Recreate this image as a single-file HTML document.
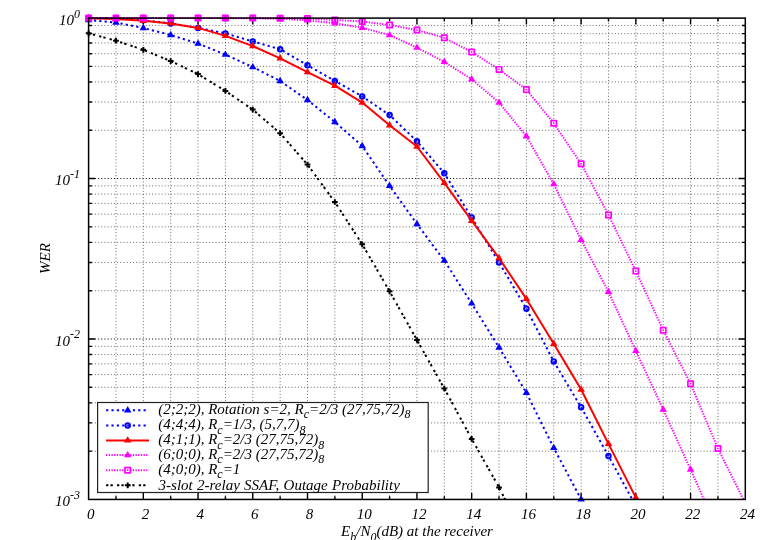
<!DOCTYPE html>
<html><head><meta charset="utf-8"><title>WER</title>
<style>html,body{margin:0;padding:0;background:#fff;width:771px;height:540px;overflow:hidden}</style></head>
<body>
<svg width="771" height="540" viewBox="0 0 771 540" style="position:absolute;left:0;top:0;will-change:transform">
<rect width="771" height="540" fill="#fff"/>
<g stroke="#000" stroke-opacity="0.54" stroke-width="1" stroke-dasharray="1.1 2.07" fill="none">
<path d="M115.96 499.45V18.1"/>
<path d="M143.32 499.45V18.1"/>
<path d="M170.69 499.45V18.1"/>
<path d="M198.05 499.45V18.1"/>
<path d="M225.41 499.45V18.1"/>
<path d="M252.77 499.45V18.1"/>
<path d="M280.14 499.45V18.1"/>
<path d="M307.5 499.45V18.1"/>
<path d="M334.86 499.45V18.1"/>
<path d="M362.23 499.45V18.1"/>
<path d="M389.59 499.45V18.1"/>
<path d="M416.95 499.45V18.1"/>
<path d="M444.31 499.45V18.1"/>
<path d="M471.67 499.45V18.1"/>
<path d="M499.04 499.45V18.1"/>
<path d="M526.4 499.45V18.1"/>
<path d="M553.76 499.45V18.1"/>
<path d="M581.12 499.45V18.1"/>
<path d="M608.49 499.45V18.1"/>
<path d="M635.85 499.45V18.1"/>
<path d="M663.21 499.45V18.1"/>
<path d="M690.57 499.45V18.1"/>
<path d="M717.94 499.45V18.1"/>
<path d="M88.6 178.55H745.3" stroke-opacity="0.95"/>
<path d="M88.6 130.25H745.3"/>
<path d="M88.6 102H745.3"/>
<path d="M88.6 81.95H745.3"/>
<path d="M88.6 66.4H745.3"/>
<path d="M88.6 53.7H745.3"/>
<path d="M88.6 42.95H745.3"/>
<path d="M88.6 33.65H745.3"/>
<path d="M88.6 25.44H745.3"/>
<path d="M88.6 339H745.3" stroke-opacity="0.95"/>
<path d="M88.6 290.7H745.3"/>
<path d="M88.6 262.45H745.3"/>
<path d="M88.6 242.4H745.3"/>
<path d="M88.6 226.85H745.3"/>
<path d="M88.6 214.15H745.3"/>
<path d="M88.6 203.4H745.3"/>
<path d="M88.6 194.1H745.3"/>
<path d="M88.6 185.89H745.3"/>
<path d="M88.6 451.15H745.3"/>
<path d="M88.6 422.9H745.3"/>
<path d="M88.6 402.85H745.3"/>
<path d="M88.6 387.3H745.3"/>
<path d="M88.6 374.6H745.3"/>
<path d="M88.6 363.85H745.3"/>
<path d="M88.6 354.55H745.3"/>
<path d="M88.6 346.34H745.3"/>
</g>
<g stroke="#000" stroke-width="1.4" fill="none">
<path d="M115.96 499.45V496.15M115.96 18.1V21.4"/>
<path d="M143.32 499.45V492.95M143.32 18.1V24.6"/>
<path d="M170.69 499.45V496.15M170.69 18.1V21.4"/>
<path d="M198.05 499.45V492.95M198.05 18.1V24.6"/>
<path d="M225.41 499.45V496.15M225.41 18.1V21.4"/>
<path d="M252.77 499.45V492.95M252.77 18.1V24.6"/>
<path d="M280.14 499.45V496.15M280.14 18.1V21.4"/>
<path d="M307.5 499.45V492.95M307.5 18.1V24.6"/>
<path d="M334.86 499.45V496.15M334.86 18.1V21.4"/>
<path d="M362.23 499.45V492.95M362.23 18.1V24.6"/>
<path d="M389.59 499.45V496.15M389.59 18.1V21.4"/>
<path d="M416.95 499.45V492.95M416.95 18.1V24.6"/>
<path d="M444.31 499.45V496.15M444.31 18.1V21.4"/>
<path d="M471.67 499.45V492.95M471.67 18.1V24.6"/>
<path d="M499.04 499.45V496.15M499.04 18.1V21.4"/>
<path d="M526.4 499.45V492.95M526.4 18.1V24.6"/>
<path d="M553.76 499.45V496.15M553.76 18.1V21.4"/>
<path d="M581.12 499.45V492.95M581.12 18.1V24.6"/>
<path d="M608.49 499.45V496.15M608.49 18.1V21.4"/>
<path d="M635.85 499.45V492.95M635.85 18.1V24.6"/>
<path d="M663.21 499.45V496.15M663.21 18.1V21.4"/>
<path d="M690.57 499.45V492.95M690.57 18.1V24.6"/>
<path d="M717.94 499.45V496.15M717.94 18.1V21.4"/>
<path d="M88.6 178.55H95.1M745.3 178.55H738.8"/>
<path d="M88.6 130.25H91.9M745.3 130.25H742"/>
<path d="M88.6 102H91.9M745.3 102H742"/>
<path d="M88.6 81.95H91.9M745.3 81.95H742"/>
<path d="M88.6 66.4H91.9M745.3 66.4H742"/>
<path d="M88.6 53.7H91.9M745.3 53.7H742"/>
<path d="M88.6 42.95H91.9M745.3 42.95H742"/>
<path d="M88.6 33.65H91.9M745.3 33.65H742"/>
<path d="M88.6 25.44H91.9M745.3 25.44H742"/>
<path d="M88.6 339H95.1M745.3 339H738.8"/>
<path d="M88.6 290.7H91.9M745.3 290.7H742"/>
<path d="M88.6 262.45H91.9M745.3 262.45H742"/>
<path d="M88.6 242.4H91.9M745.3 242.4H742"/>
<path d="M88.6 226.85H91.9M745.3 226.85H742"/>
<path d="M88.6 214.15H91.9M745.3 214.15H742"/>
<path d="M88.6 203.4H91.9M745.3 203.4H742"/>
<path d="M88.6 194.1H91.9M745.3 194.1H742"/>
<path d="M88.6 185.89H91.9M745.3 185.89H742"/>
<path d="M88.6 451.15H91.9M745.3 451.15H742"/>
<path d="M88.6 422.9H91.9M745.3 422.9H742"/>
<path d="M88.6 402.85H91.9M745.3 402.85H742"/>
<path d="M88.6 387.3H91.9M745.3 387.3H742"/>
<path d="M88.6 374.6H91.9M745.3 374.6H742"/>
<path d="M88.6 363.85H91.9M745.3 363.85H742"/>
<path d="M88.6 354.55H91.9M745.3 354.55H742"/>
<path d="M88.6 346.34H91.9M745.3 346.34H742"/>
</g>
<g fill="none" stroke-linejoin="round">
<polyline points="88.6,20 115.96,22.5 143.32,28 170.69,35 198.05,43.6 225.41,54.6 252.77,67.1 280.14,81 307.5,100 334.86,122 362.23,146 389.59,185.9 416.95,224 444.31,260.6 471.67,303.4 499.04,347.5 526.4,392.8 553.76,447.9 581.12,499.4" stroke="#0000ff" stroke-width="2" stroke-dasharray="2.2 3.15"/>
<polygon points="88.6,15.8 84.85,22.2 92.35,22.2" fill="#0000ff"/>
<polygon points="115.96,18.3 112.21,24.7 119.71,24.7" fill="#0000ff"/>
<polygon points="143.32,23.8 139.57,30.2 147.07,30.2" fill="#0000ff"/>
<polygon points="170.69,30.8 166.94,37.2 174.44,37.2" fill="#0000ff"/>
<polygon points="198.05,39.4 194.3,45.8 201.8,45.8" fill="#0000ff"/>
<polygon points="225.41,50.4 221.66,56.8 229.16,56.8" fill="#0000ff"/>
<polygon points="252.77,62.9 249.02,69.3 256.52,69.3" fill="#0000ff"/>
<polygon points="280.14,76.8 276.39,83.2 283.89,83.2" fill="#0000ff"/>
<polygon points="307.5,95.8 303.75,102.2 311.25,102.2" fill="#0000ff"/>
<polygon points="334.86,117.8 331.11,124.2 338.61,124.2" fill="#0000ff"/>
<polygon points="362.23,141.8 358.48,148.2 365.98,148.2" fill="#0000ff"/>
<polygon points="389.59,181.7 385.84,188.1 393.34,188.1" fill="#0000ff"/>
<polygon points="416.95,219.8 413.2,226.2 420.7,226.2" fill="#0000ff"/>
<polygon points="444.31,256.4 440.56,262.8 448.06,262.8" fill="#0000ff"/>
<polygon points="471.67,299.2 467.92,305.6 475.42,305.6" fill="#0000ff"/>
<polygon points="499.04,343.3 495.29,349.7 502.79,349.7" fill="#0000ff"/>
<polygon points="526.4,388.6 522.65,395 530.15,395" fill="#0000ff"/>
<polygon points="553.76,443.7 550.01,450.1 557.51,450.1" fill="#0000ff"/>
<polygon points="581.12,495.2 577.38,501.6 584.88,501.6" fill="#0000ff"/>
<polyline points="88.6,18.1 115.96,18.4 143.32,20.2 170.69,23.4 198.05,27.9 225.41,33.4 252.77,41.4 280.14,49.2 307.5,65.3 334.86,80.9 362.23,96.4 389.59,115.1 416.95,141.3 444.31,173.2 471.67,217.6 499.04,262.4 526.4,308.8 553.76,361.5 581.12,407.3 608.49,456 632.29,499.45" stroke="#0000ff" stroke-width="2" stroke-dasharray="2.2 3.15"/>
<circle cx="88.6" cy="18.1" r="2.25" fill="none" stroke="#0000ff" stroke-width="2"/><circle cx="88.6" cy="18.1" r="0.55" fill="#0000ff"/>
<circle cx="115.96" cy="18.4" r="2.25" fill="none" stroke="#0000ff" stroke-width="2"/><circle cx="115.96" cy="18.4" r="0.55" fill="#0000ff"/>
<circle cx="143.32" cy="20.2" r="2.25" fill="none" stroke="#0000ff" stroke-width="2"/><circle cx="143.32" cy="20.2" r="0.55" fill="#0000ff"/>
<circle cx="170.69" cy="23.4" r="2.25" fill="none" stroke="#0000ff" stroke-width="2"/><circle cx="170.69" cy="23.4" r="0.55" fill="#0000ff"/>
<circle cx="198.05" cy="27.9" r="2.25" fill="none" stroke="#0000ff" stroke-width="2"/><circle cx="198.05" cy="27.9" r="0.55" fill="#0000ff"/>
<circle cx="225.41" cy="33.4" r="2.25" fill="none" stroke="#0000ff" stroke-width="2"/><circle cx="225.41" cy="33.4" r="0.55" fill="#0000ff"/>
<circle cx="252.77" cy="41.4" r="2.25" fill="none" stroke="#0000ff" stroke-width="2"/><circle cx="252.77" cy="41.4" r="0.55" fill="#0000ff"/>
<circle cx="280.14" cy="49.2" r="2.25" fill="none" stroke="#0000ff" stroke-width="2"/><circle cx="280.14" cy="49.2" r="0.55" fill="#0000ff"/>
<circle cx="307.5" cy="65.3" r="2.25" fill="none" stroke="#0000ff" stroke-width="2"/><circle cx="307.5" cy="65.3" r="0.55" fill="#0000ff"/>
<circle cx="334.86" cy="80.9" r="2.25" fill="none" stroke="#0000ff" stroke-width="2"/><circle cx="334.86" cy="80.9" r="0.55" fill="#0000ff"/>
<circle cx="362.23" cy="96.4" r="2.25" fill="none" stroke="#0000ff" stroke-width="2"/><circle cx="362.23" cy="96.4" r="0.55" fill="#0000ff"/>
<circle cx="389.59" cy="115.1" r="2.25" fill="none" stroke="#0000ff" stroke-width="2"/><circle cx="389.59" cy="115.1" r="0.55" fill="#0000ff"/>
<circle cx="416.95" cy="141.3" r="2.25" fill="none" stroke="#0000ff" stroke-width="2"/><circle cx="416.95" cy="141.3" r="0.55" fill="#0000ff"/>
<circle cx="444.31" cy="173.2" r="2.25" fill="none" stroke="#0000ff" stroke-width="2"/><circle cx="444.31" cy="173.2" r="0.55" fill="#0000ff"/>
<circle cx="471.67" cy="217.6" r="2.25" fill="none" stroke="#0000ff" stroke-width="2"/><circle cx="471.67" cy="217.6" r="0.55" fill="#0000ff"/>
<circle cx="499.04" cy="262.4" r="2.25" fill="none" stroke="#0000ff" stroke-width="2"/><circle cx="499.04" cy="262.4" r="0.55" fill="#0000ff"/>
<circle cx="526.4" cy="308.8" r="2.25" fill="none" stroke="#0000ff" stroke-width="2"/><circle cx="526.4" cy="308.8" r="0.55" fill="#0000ff"/>
<circle cx="553.76" cy="361.5" r="2.25" fill="none" stroke="#0000ff" stroke-width="2"/><circle cx="553.76" cy="361.5" r="0.55" fill="#0000ff"/>
<circle cx="581.12" cy="407.3" r="2.25" fill="none" stroke="#0000ff" stroke-width="2"/><circle cx="581.12" cy="407.3" r="0.55" fill="#0000ff"/>
<circle cx="608.49" cy="456" r="2.25" fill="none" stroke="#0000ff" stroke-width="2"/><circle cx="608.49" cy="456" r="0.55" fill="#0000ff"/>
<polyline points="88.6,18.2 115.96,19 143.32,20.8 170.69,23.4 198.05,27.9 225.41,35.9 252.77,46.1 280.14,58.3 307.5,72.1 334.86,85.7 362.23,102.6 389.59,125.3 416.95,146.5 444.31,182.9 471.67,220.7 499.04,258.1 526.4,298.9 553.76,343.8 581.12,389.5 608.49,443.9 635.85,497.6" stroke="#ff0000" stroke-width="2"/>
<polygon points="88.6,14 84.85,20.4 92.35,20.4" fill="#ff0000"/>
<polygon points="115.96,14.8 112.21,21.2 119.71,21.2" fill="#ff0000"/>
<polygon points="143.32,16.6 139.57,23 147.07,23" fill="#ff0000"/>
<polygon points="170.69,19.2 166.94,25.6 174.44,25.6" fill="#ff0000"/>
<polygon points="198.05,23.7 194.3,30.1 201.8,30.1" fill="#ff0000"/>
<polygon points="225.41,31.7 221.66,38.1 229.16,38.1" fill="#ff0000"/>
<polygon points="252.77,41.9 249.02,48.3 256.52,48.3" fill="#ff0000"/>
<polygon points="280.14,54.1 276.39,60.5 283.89,60.5" fill="#ff0000"/>
<polygon points="307.5,67.9 303.75,74.3 311.25,74.3" fill="#ff0000"/>
<polygon points="334.86,81.5 331.11,87.9 338.61,87.9" fill="#ff0000"/>
<polygon points="362.23,98.4 358.48,104.8 365.98,104.8" fill="#ff0000"/>
<polygon points="389.59,121.1 385.84,127.5 393.34,127.5" fill="#ff0000"/>
<polygon points="416.95,142.3 413.2,148.7 420.7,148.7" fill="#ff0000"/>
<polygon points="444.31,178.7 440.56,185.1 448.06,185.1" fill="#ff0000"/>
<polygon points="471.67,216.5 467.92,222.9 475.42,222.9" fill="#ff0000"/>
<polygon points="499.04,253.9 495.29,260.3 502.79,260.3" fill="#ff0000"/>
<polygon points="526.4,294.7 522.65,301.1 530.15,301.1" fill="#ff0000"/>
<polygon points="553.76,339.6 550.01,346 557.51,346" fill="#ff0000"/>
<polygon points="581.12,385.3 577.38,391.7 584.88,391.7" fill="#ff0000"/>
<polygon points="608.49,439.7 604.74,446.1 612.24,446.1" fill="#ff0000"/>
<polygon points="635.85,493.4 632.1,499.8 639.6,499.8" fill="#ff0000"/>
<polyline points="88.6,18.1 115.96,18.1 143.32,18.1 170.69,18.1 198.05,18.1 225.41,18.1 252.77,18.2 280.14,18.6 307.5,20.3 334.86,23.3 362.23,27.8 389.59,35.1 416.95,47.6 444.31,61.9 471.67,79.2 499.04,102.6 526.4,136.3 553.76,184.1 581.12,239.9 608.49,291.8 635.85,350.9 663.21,409.5 690.57,469.5 703.98,499.45" stroke="#ff00ff" stroke-width="2" stroke-dasharray="1.3 1.37"/>
<polygon points="88.6,13.9 84.85,20.3 92.35,20.3" fill="#ff00ff"/>
<polygon points="115.96,13.9 112.21,20.3 119.71,20.3" fill="#ff00ff"/>
<polygon points="143.32,13.9 139.57,20.3 147.07,20.3" fill="#ff00ff"/>
<polygon points="170.69,13.9 166.94,20.3 174.44,20.3" fill="#ff00ff"/>
<polygon points="198.05,13.9 194.3,20.3 201.8,20.3" fill="#ff00ff"/>
<polygon points="225.41,13.9 221.66,20.3 229.16,20.3" fill="#ff00ff"/>
<polygon points="252.77,14 249.02,20.4 256.52,20.4" fill="#ff00ff"/>
<polygon points="280.14,14.4 276.39,20.8 283.89,20.8" fill="#ff00ff"/>
<polygon points="307.5,16.1 303.75,22.5 311.25,22.5" fill="#ff00ff"/>
<polygon points="334.86,19.1 331.11,25.5 338.61,25.5" fill="#ff00ff"/>
<polygon points="362.23,23.6 358.48,30 365.98,30" fill="#ff00ff"/>
<polygon points="389.59,30.9 385.84,37.3 393.34,37.3" fill="#ff00ff"/>
<polygon points="416.95,43.4 413.2,49.8 420.7,49.8" fill="#ff00ff"/>
<polygon points="444.31,57.7 440.56,64.1 448.06,64.1" fill="#ff00ff"/>
<polygon points="471.67,75 467.92,81.4 475.42,81.4" fill="#ff00ff"/>
<polygon points="499.04,98.4 495.29,104.8 502.79,104.8" fill="#ff00ff"/>
<polygon points="526.4,132.1 522.65,138.5 530.15,138.5" fill="#ff00ff"/>
<polygon points="553.76,179.9 550.01,186.3 557.51,186.3" fill="#ff00ff"/>
<polygon points="581.12,235.7 577.38,242.1 584.88,242.1" fill="#ff00ff"/>
<polygon points="608.49,287.6 604.74,294 612.24,294" fill="#ff00ff"/>
<polygon points="635.85,346.7 632.1,353.1 639.6,353.1" fill="#ff00ff"/>
<polygon points="663.21,405.3 659.46,411.7 666.96,411.7" fill="#ff00ff"/>
<polygon points="690.57,465.3 686.82,471.7 694.32,471.7" fill="#ff00ff"/>
<polyline points="88.6,18.1 115.96,18.1 143.32,18.1 170.69,18.1 198.05,18.1 225.41,18.1 252.77,18.1 280.14,18.2 307.5,18.5 334.86,19.9 362.23,21.5 389.59,25 416.95,30 444.31,37.8 471.67,52 499.04,69.4 526.4,89.6 553.76,123.3 581.12,163.8 608.49,214.9 635.85,271.1 663.21,330.2 690.57,383.7 717.94,448.5 743.38,499.45" stroke="#ff00ff" stroke-width="2" stroke-dasharray="1.3 1.37"/>
<rect x="85.95" y="15.45" width="5.3" height="5.3" fill="none" stroke="#ff00ff" stroke-width="1.7"/><rect x="87.8" y="17.3" width="1.6" height="1.6" fill="#ff00ff"/>
<rect x="113.31" y="15.45" width="5.3" height="5.3" fill="none" stroke="#ff00ff" stroke-width="1.7"/><rect x="115.16" y="17.3" width="1.6" height="1.6" fill="#ff00ff"/>
<rect x="140.67" y="15.45" width="5.3" height="5.3" fill="none" stroke="#ff00ff" stroke-width="1.7"/><rect x="142.52" y="17.3" width="1.6" height="1.6" fill="#ff00ff"/>
<rect x="168.04" y="15.45" width="5.3" height="5.3" fill="none" stroke="#ff00ff" stroke-width="1.7"/><rect x="169.89" y="17.3" width="1.6" height="1.6" fill="#ff00ff"/>
<rect x="195.4" y="15.45" width="5.3" height="5.3" fill="none" stroke="#ff00ff" stroke-width="1.7"/><rect x="197.25" y="17.3" width="1.6" height="1.6" fill="#ff00ff"/>
<rect x="222.76" y="15.45" width="5.3" height="5.3" fill="none" stroke="#ff00ff" stroke-width="1.7"/><rect x="224.61" y="17.3" width="1.6" height="1.6" fill="#ff00ff"/>
<rect x="250.12" y="15.45" width="5.3" height="5.3" fill="none" stroke="#ff00ff" stroke-width="1.7"/><rect x="251.97" y="17.3" width="1.6" height="1.6" fill="#ff00ff"/>
<rect x="277.49" y="15.55" width="5.3" height="5.3" fill="none" stroke="#ff00ff" stroke-width="1.7"/><rect x="279.34" y="17.4" width="1.6" height="1.6" fill="#ff00ff"/>
<rect x="304.85" y="15.85" width="5.3" height="5.3" fill="none" stroke="#ff00ff" stroke-width="1.7"/><rect x="306.7" y="17.7" width="1.6" height="1.6" fill="#ff00ff"/>
<rect x="332.21" y="17.25" width="5.3" height="5.3" fill="none" stroke="#ff00ff" stroke-width="1.7"/><rect x="334.06" y="19.1" width="1.6" height="1.6" fill="#ff00ff"/>
<rect x="359.58" y="18.85" width="5.3" height="5.3" fill="none" stroke="#ff00ff" stroke-width="1.7"/><rect x="361.43" y="20.7" width="1.6" height="1.6" fill="#ff00ff"/>
<rect x="386.94" y="22.35" width="5.3" height="5.3" fill="#fff" stroke="#ff00ff" stroke-width="1.7"/><rect x="388.79" y="24.2" width="1.6" height="1.6" fill="#ff00ff"/>
<rect x="414.3" y="27.35" width="5.3" height="5.3" fill="#fff" stroke="#ff00ff" stroke-width="1.7"/><rect x="416.15" y="29.2" width="1.6" height="1.6" fill="#ff00ff"/>
<rect x="441.66" y="35.15" width="5.3" height="5.3" fill="#fff" stroke="#ff00ff" stroke-width="1.7"/><rect x="443.51" y="37" width="1.6" height="1.6" fill="#ff00ff"/>
<rect x="469.02" y="49.35" width="5.3" height="5.3" fill="#fff" stroke="#ff00ff" stroke-width="1.7"/><rect x="470.87" y="51.2" width="1.6" height="1.6" fill="#ff00ff"/>
<rect x="496.39" y="66.75" width="5.3" height="5.3" fill="#fff" stroke="#ff00ff" stroke-width="1.7"/><rect x="498.24" y="68.6" width="1.6" height="1.6" fill="#ff00ff"/>
<rect x="523.75" y="86.95" width="5.3" height="5.3" fill="#fff" stroke="#ff00ff" stroke-width="1.7"/><rect x="525.6" y="88.8" width="1.6" height="1.6" fill="#ff00ff"/>
<rect x="551.11" y="120.65" width="5.3" height="5.3" fill="#fff" stroke="#ff00ff" stroke-width="1.7"/><rect x="552.96" y="122.5" width="1.6" height="1.6" fill="#ff00ff"/>
<rect x="578.48" y="161.15" width="5.3" height="5.3" fill="#fff" stroke="#ff00ff" stroke-width="1.7"/><rect x="580.33" y="163" width="1.6" height="1.6" fill="#ff00ff"/>
<rect x="605.84" y="212.25" width="5.3" height="5.3" fill="#fff" stroke="#ff00ff" stroke-width="1.7"/><rect x="607.69" y="214.1" width="1.6" height="1.6" fill="#ff00ff"/>
<rect x="633.2" y="268.45" width="5.3" height="5.3" fill="#fff" stroke="#ff00ff" stroke-width="1.7"/><rect x="635.05" y="270.3" width="1.6" height="1.6" fill="#ff00ff"/>
<rect x="660.56" y="327.55" width="5.3" height="5.3" fill="#fff" stroke="#ff00ff" stroke-width="1.7"/><rect x="662.41" y="329.4" width="1.6" height="1.6" fill="#ff00ff"/>
<rect x="687.92" y="381.05" width="5.3" height="5.3" fill="#fff" stroke="#ff00ff" stroke-width="1.7"/><rect x="689.77" y="382.9" width="1.6" height="1.6" fill="#ff00ff"/>
<rect x="715.29" y="445.85" width="5.3" height="5.3" fill="#fff" stroke="#ff00ff" stroke-width="1.7"/><rect x="717.14" y="447.7" width="1.6" height="1.6" fill="#ff00ff"/>
<polyline points="88.6,33.3 115.96,40.7 143.32,49.8 170.69,61.1 198.05,74.1 225.41,90.9 252.77,109.6 280.14,133.2 307.5,164.6 334.86,202 362.23,244.3 389.59,291.3 416.95,340 444.31,388.5 471.67,438.9 499.04,487.4 505.06,499.45" stroke="#000000" stroke-width="2" stroke-dasharray="2.3 2.1 2.3 4.2"/>
<path d="M85.75 33.3H91.45M88.6 30.45V36.15" stroke="#000000" stroke-width="2" fill="none"/>
<path d="M113.11 40.7H118.81M115.96 37.85V43.55" stroke="#000000" stroke-width="2" fill="none"/>
<path d="M140.47 49.8H146.17M143.32 46.95V52.65" stroke="#000000" stroke-width="2" fill="none"/>
<path d="M167.84 61.1H173.54M170.69 58.25V63.95" stroke="#000000" stroke-width="2" fill="none"/>
<path d="M195.2 74.1H200.9M198.05 71.25V76.95" stroke="#000000" stroke-width="2" fill="none"/>
<path d="M222.56 90.9H228.26M225.41 88.05V93.75" stroke="#000000" stroke-width="2" fill="none"/>
<path d="M249.92 109.6H255.62M252.77 106.75V112.45" stroke="#000000" stroke-width="2" fill="none"/>
<path d="M277.29 133.2H282.99M280.14 130.35V136.05" stroke="#000000" stroke-width="2" fill="none"/>
<path d="M304.65 164.6H310.35M307.5 161.75V167.45" stroke="#000000" stroke-width="2" fill="none"/>
<path d="M332.01 202H337.71M334.86 199.15V204.85" stroke="#000000" stroke-width="2" fill="none"/>
<path d="M359.38 244.3H365.08M362.23 241.45V247.15" stroke="#000000" stroke-width="2" fill="none"/>
<path d="M386.74 291.3H392.44M389.59 288.45V294.15" stroke="#000000" stroke-width="2" fill="none"/>
<path d="M414.1 340H419.8M416.95 337.15V342.85" stroke="#000000" stroke-width="2" fill="none"/>
<path d="M441.46 388.5H447.16M444.31 385.65V391.35" stroke="#000000" stroke-width="2" fill="none"/>
<path d="M468.82 438.9H474.52M471.67 436.05V441.75" stroke="#000000" stroke-width="2" fill="none"/>
<path d="M496.19 487.4H501.89M499.04 484.55V490.25" stroke="#000000" stroke-width="2" fill="none"/>
</g>
<rect x="88.6" y="18.1" width="656.7" height="481.35" fill="none" stroke="#000" stroke-width="1.5"/>
<rect x="97.6" y="402.5" width="330.6" height="90" fill="#fff" stroke="#222" stroke-width="1.2"/>
<g fill="none">
<path d="M106.1 410.3H148.85" stroke="#0000ff" stroke-width="2" stroke-dasharray="2.2 3.15"/>
<polygon points="127.7,406.1 123.95,412.5 131.45,412.5" fill="#0000ff"/>
<path d="M106.1 425.4H148.85" stroke="#0000ff" stroke-width="2" stroke-dasharray="2.2 3.15"/>
<circle cx="127.7" cy="425.4" r="2.25" fill="none" stroke="#0000ff" stroke-width="2"/><circle cx="127.7" cy="425.4" r="0.55" fill="#0000ff"/>
<path d="M106.1 440.4H149.05" stroke="#ff0000" stroke-width="2"/>
<polygon points="127.7,436.2 123.95,442.6 131.45,442.6" fill="#ff0000"/>
<path d="M106.1 455.1H148.85" stroke="#ff00ff" stroke-width="2" stroke-dasharray="1.3 1.37"/>
<polygon points="127.7,450.9 123.95,457.3 131.45,457.3" fill="#ff00ff"/>
<path d="M106.1 470.2H148.85" stroke="#ff00ff" stroke-width="2" stroke-dasharray="1.3 1.37"/>
<rect x="125.05" y="467.55" width="5.3" height="5.3" fill="#fff" stroke="#ff00ff" stroke-width="1.7"/><rect x="126.9" y="469.4" width="1.6" height="1.6" fill="#ff00ff"/>
<path d="M106.1 485.3H148.85" stroke="#000000" stroke-width="2" stroke-dasharray="2.3 2.1 2.3 4.2"/>
<path d="M124.85 485.3H130.55M127.7 482.45V488.15" stroke="#000000" stroke-width="2" fill="none"/>
</g>
<g font-family="'Liberation Serif', serif" font-style="italic" fill="#000">
<text id="leg0" x="158.2" y="413.9" font-size="15">(2;2;2), Rotation s=2, R<tspan dy="4.5" font-size="12">c</tspan><tspan dy="-4.5" font-size="0.01"> </tspan>=2/3 (27,75,72)<tspan dy="4.5" font-size="12">8</tspan><tspan dy="-4.5" font-size="0.01"> </tspan></text>
<text id="leg1" x="158.2" y="429" font-size="15">(4;4;4), R<tspan dy="4.5" font-size="12">c</tspan><tspan dy="-4.5" font-size="0.01"> </tspan>=1/3, (5,7,7)<tspan dy="4.5" font-size="12">8</tspan><tspan dy="-4.5" font-size="0.01"> </tspan></text>
<text id="leg2" x="158.2" y="444" font-size="15">(4;1;1), R<tspan dy="4.5" font-size="12">c</tspan><tspan dy="-4.5" font-size="0.01"> </tspan>=2/3 (27,75,72)<tspan dy="4.5" font-size="12">8</tspan><tspan dy="-4.5" font-size="0.01"> </tspan></text>
<text id="leg3" x="158.2" y="458.7" font-size="15">(6;0;0), R<tspan dy="4.5" font-size="12">c</tspan><tspan dy="-4.5" font-size="0.01"> </tspan>=2/3 (27,75,72)<tspan dy="4.5" font-size="12">8</tspan><tspan dy="-4.5" font-size="0.01"> </tspan></text>
<text id="leg4" x="158.2" y="473.8" font-size="15">(4;0;0), R<tspan dy="4.5" font-size="12">c</tspan><tspan dy="-4.5" font-size="0.01"> </tspan>=1</text>
<text id="leg5" x="158.6" y="490" font-size="15" word-spacing="0.55">3-slot 2-relay SSAF, Outage Probability</text>
<text x="90.7" y="519.3" font-size="15" text-anchor="middle">0</text>
<text x="145.42" y="519.3" font-size="15" text-anchor="middle">2</text>
<text x="200.15" y="519.3" font-size="15" text-anchor="middle">4</text>
<text x="254.87" y="519.3" font-size="15" text-anchor="middle">6</text>
<text x="309.6" y="519.3" font-size="15" text-anchor="middle">8</text>
<text x="364.33" y="519.3" font-size="15" text-anchor="middle">10</text>
<text x="419.05" y="519.3" font-size="15" text-anchor="middle">12</text>
<text x="473.77" y="519.3" font-size="15" text-anchor="middle">14</text>
<text x="528.5" y="519.3" font-size="15" text-anchor="middle">16</text>
<text x="583.23" y="519.3" font-size="15" text-anchor="middle">18</text>
<text x="637.95" y="519.3" font-size="15" text-anchor="middle">20</text>
<text x="692.67" y="519.3" font-size="15" text-anchor="middle">22</text>
<text x="747.4" y="519.3" font-size="15" text-anchor="middle">24</text>
<text x="80.1" y="24.9" font-size="15" text-anchor="end">10<tspan dy="-7.4" font-size="12">0</tspan></text>
<text x="80.1" y="185.35" font-size="15" text-anchor="end">10<tspan dy="-7.4" font-size="12">-1</tspan></text>
<text x="80.1" y="345.8" font-size="15" text-anchor="end">10<tspan dy="-7.4" font-size="12">-2</tspan></text>
<text x="80.1" y="506.25" font-size="15" text-anchor="end">10<tspan dy="-7.4" font-size="12">-3</tspan></text>
<text id="xl" x="417" y="536" font-size="15" text-anchor="middle">E<tspan dy="5" font-size="12">b</tspan><tspan dy="-5" font-size="0.01"> </tspan>/N<tspan dy="5" font-size="12">0</tspan><tspan dy="-5" font-size="0.01"> </tspan>(dB) at the receiver</text>
<text id="yl" transform="translate(50.1 258.6) rotate(-90)" font-size="15" text-anchor="middle">WER</text>
</g>
</svg>
</body></html>
